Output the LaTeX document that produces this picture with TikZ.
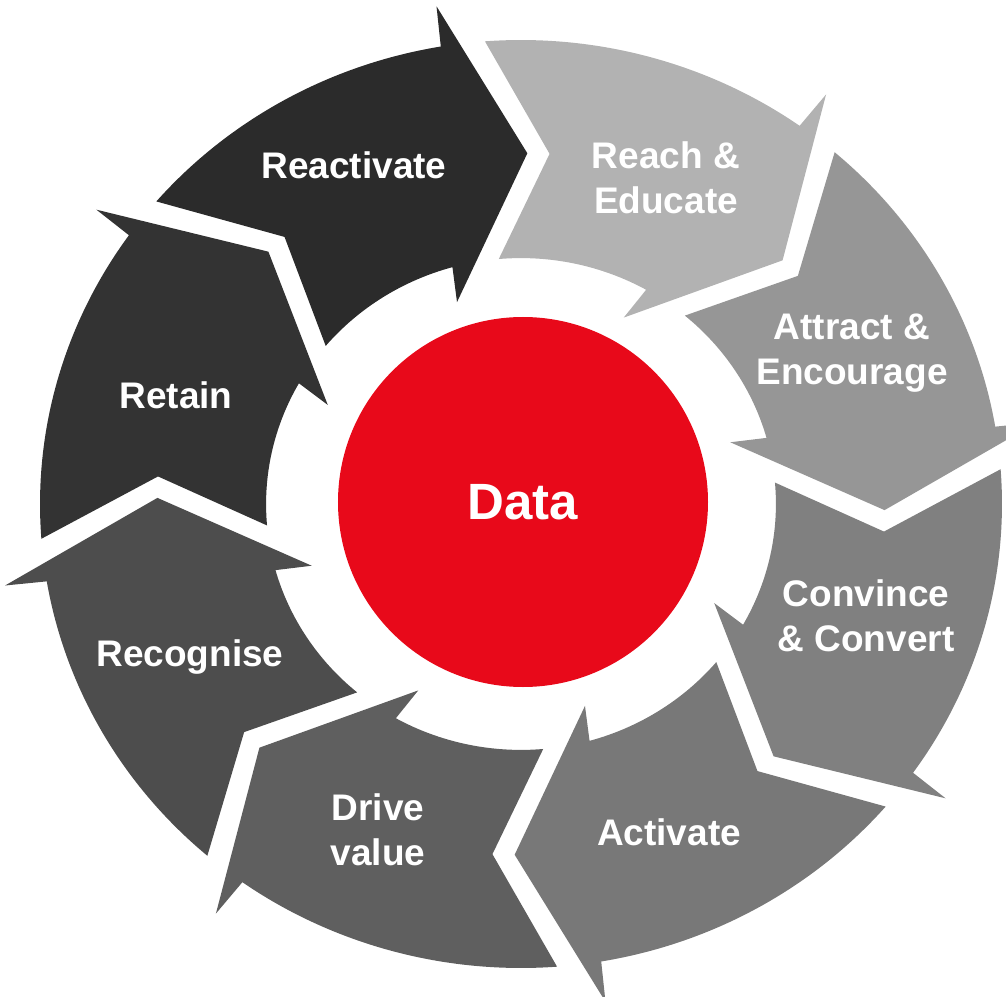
\documentclass[tikz,border=0pt]{standalone}
\usepackage{fontspec}
\setmainfont{Liberation Sans}
\usepackage{tikz}
\usetikzlibrary{calc}
\usepackage{xcolor}
\definecolor{segReactivate}{HTML}{2B2B2B}
\definecolor{segReach}{HTML}{B2B2B2}
\definecolor{segAttract}{HTML}{969696}
\definecolor{segConvince}{HTML}{808080}
\definecolor{segActivate}{HTML}{787878}
\definecolor{segDrive}{HTML}{5F5F5F}
\definecolor{segRecognise}{HTML}{4D4D4D}
\definecolor{segRetain}{HTML}{333333}
\definecolor{dataRed}{RGB}{232,9,26}
\def\ringX{481}
\def\ringY{464}
\def\ringIn{0.53}
\newcommand{\rp}[2]{(#1:{\ringX*#2} and {\ringY*#2})}
\tikzset{lbl/.style={text=white,font=\fontsize{37}{45}\selectfont\bfseries,align=center,inner sep=0}}
\tikzset{hub/.style={fill=dataRed,circle,minimum size=370,inner sep=0,text=white,font=\fontsize{51}{60}\selectfont\bfseries}}

\begin{document}
\begin{tikzpicture}[x=1pt,y=1pt]\useasboundingbox (-521,-492) rectangle (485,504);
% one curved arrow per step, \t is the angle of its tip
\foreach\t/\c in {90/segReactivate,45/segReach,0/segAttract,-45/segConvince,-90/segActivate,-135/segDrive,-180/segRecognise,135/segRetain}{
\fill[\c] \rp{\t+49.3}{1} arc[start angle=\t+49.3,end angle=\t+9.6,x radius=\ringX,y radius=\ringY] -- \rp{\t+9.3}{1.087} -- \rp{\t-1}{0.756} -- \rp{\t+17}{0.455} -- \rp{\t+15.6}{\ringIn} arc[start angle=\t+15.6,end angle=\t+50,x radius=\ringX*\ringIn,y radius=\ringY*\ringIn] -- \rp{\t+40.5}{0.757} -- cycle;
};
\node (data) at (2,2) [hub]{Data};
\node (reactivate) at (-167,339) [lbl]{Reactivate};
\node (reach) at (145,326) [lbl]{Reach \&\\Educate};
\node (attract) at (331,151) [lbl]{Attract \&\\Encourage};
\node (convince) at (345,-112) [lbl]{Convince\\\& Convert};
\node (activate) at (148,-328) [lbl]{Activate};
\node (drive) at (-143,-326) [lbl]{Drive\\value};
\node (recognise) at (-331,-153) [lbl]{Recognise};
\node (retain) at (-345,109) [lbl]{Retain};
\end{tikzpicture}
\end{document}
